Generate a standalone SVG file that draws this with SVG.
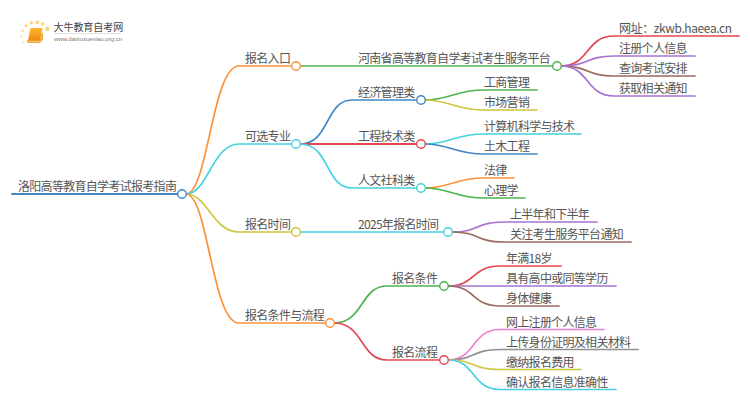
<svg xmlns="http://www.w3.org/2000/svg" width="750" height="410" viewBox="0 0 750 410">
<style>
text{font-family:"Noto Sans CJK SC","Liberation Sans",sans-serif;font-size:12px;letter-spacing:-0.7px;fill:#555}
.c{fill:none;stroke-width:1.7;stroke-linecap:round}
.n{fill:#fff;stroke-width:1.4}
.o{stroke:#fd9138}.g{stroke:#4db34d}.b{stroke:#3f88c5}.r{stroke:#e2474f}.t{stroke:#45d1e0}.y{stroke:#cfc63f}.p{stroke:#a673cf}.m{stroke:#9a6a60}.k{stroke:#ea82d3}.h{stroke:#8f8f8f}
</style>
<defs><linearGradient id="bk" x1="0" y1="0" x2="0" y2="1"><stop offset="0" stop-color="#fbb82e"/><stop offset="1" stop-color="#ef8a10"/></linearGradient></defs>
<rect width="750" height="410" fill="#fff"/>
<g id="logo">
<g fill="#fbd47a"><circle cx="47.300" cy="28.700" r="2.300"/><circle cx="42.700" cy="24" r="1.800"/><circle cx="37.300" cy="22.300" r="1.900"/><circle cx="31.300" cy="22.700" r="1.700"/><circle cx="26" cy="25.700" r="1.400"/><circle cx="22.700" cy="30.700" r="1.100"/><circle cx="21.300" cy="36.700" r="0.900"/><circle cx="23.300" cy="42.300" r="0.800"/></g>
<path d="M30.500 28H42.500L40 40.500H28z" fill="url(#bk)"/><path d="M28 40.500C27 41 27 42.300 28 42.500H39.500L42.500 40V33L40 40.500z" fill="#f9c469" stroke="#e88b10" stroke-width="0.700"/>
<text x="53.500" y="31" style="font-size:10px;letter-spacing:-0.05px;fill:#444">大牛教育自考网</text>
<rect x="54" y="33" width="67" height="0.600" fill="#ccc"/>
<text x="54" y="41" style="font-size:6px;letter-spacing:0;font-family:'Liberation Sans',sans-serif;fill:#777">www.daniuxuexiao.org.cn</text>
</g>
<g id="connectors">
<path class="c b" d="M12 194H178" style="stroke-width:2"/>
<path class="c o" d="M186 194C208 194 212 66 239 66H292"/>
<path class="c t" d="M186 194C208 194 212 144 239 144H292"/>
<path class="c y" d="M186 194C208 194 212 232 239 232H292"/>
<path class="c o" d="M186 194C208 194 212 323 239 323H326"/>
<path class="c g" d="M300 66H553"/>
<path class="c b" d="M300 144C330 144 325 100 352 100H417"/>
<path class="c r" d="M300 144H417" style="stroke-width:2"/>
<path class="c t" d="M300 144C330 144 325 188 352 188H417"/>
<path class="c t" d="M300 232H444"/>
<path class="c g" d="M334 323C364 323 360 286 387 286H440"/>
<path class="c r" d="M334 323C364 323 360 360 387 360H440"/>
<path class="c g" d="M425 100C450 100 455 90 484 90H537"/>
<path class="c y" d="M425 100C450 100 455 110 484 110H537"/>
<path class="c t" d="M425 144C450 144 455 134 484 134H581"/>
<path class="c b" d="M425 144C450 144 455 154 484 154H537"/>
<path class="c o" d="M425 188C450 188 455 178 484 178H514"/>
<path class="c g" d="M425 188C450 188 455 198 484 198H525"/>
<path class="c r" d="M561 66C590 66 585 36 614 36H739"/>
<path class="c p" d="M561 66C590 66 585 56 614 56H695"/>
<path class="c m" d="M561 66C590 66 585 76 614 76H695"/>
<path class="c p" d="M561 66C590 66 585 96 614 96H695"/>
<path class="c p" d="M452 232C480 232 475 222 504 222H597"/>
<path class="c m" d="M452 232C480 232 475 242 504 242H631"/>
<path class="c r" d="M448 286C476 286 471 266 500 266H561"/>
<path class="c p" d="M448 286H616"/>
<path class="c m" d="M448 286C476 286 471 306 500 306H559"/>
<path class="c k" d="M448 360C476 360 471 329.500 500 329.500H604"/>
<path class="c h" d="M448 360C476 360 471 349.500 500 349.500H638"/>
<path class="c y" d="M448 360C476 360 471 369.500 500 369.500H581"/>
<path class="c t" d="M448 360C476 360 471 389.500 500 389.500H616"/>
</g>
<g id="root"><text x="18" y="190.500">洛阳高等教育自学考试报考指南</text><circle class="n b" cx="182" cy="194" r="4.300"/></g>
<g id="n1"><text x="245" y="62.500">报名入口</text><circle class="n o" cx="296" cy="66" r="4.300"/></g>
<g id="n2"><text x="245" y="140.500">可选专业</text><circle class="n t" cx="296" cy="144" r="4.300"/></g>
<g id="n3"><text x="245" y="228.500">报名时间</text><circle class="n y" cx="296" cy="232" r="4.300"/></g>
<g id="n4"><text x="245" y="319.500">报名条件与流程</text><circle class="n o" cx="330" cy="323" r="4.300"/></g>
<g id="n11"><text x="358" y="62.500">河南省高等教育自学考试考生服务平台</text><circle class="n g" cx="557" cy="66" r="4.300"/></g>
<g id="n21"><text x="358" y="96.500">经济管理类</text><circle class="n b" cx="421" cy="100" r="4.300"/></g>
<g id="n22"><text x="358" y="140.500">工程技术类</text><circle class="n r" cx="421" cy="144" r="4.300"/></g>
<g id="n23"><text x="358" y="184.500">人文社科类</text><circle class="n t" cx="421" cy="188" r="4.300"/></g>
<g id="n31"><text x="358" y="228.500">2025年报名时间</text><circle class="n t" cx="448" cy="232" r="4.300"/></g>
<g id="n41"><text x="392" y="282.500">报名条件</text><circle class="n g" cx="444" cy="286" r="4.300"/></g>
<g id="n42"><text x="392" y="356.500">报名流程</text><circle class="n r" cx="444" cy="360" r="4.300"/></g>
<g id="l1"><text x="619" y="33" style="letter-spacing:-0.4px">网址：zkwb.haeea.cn</text></g>
<g id="l2"><text x="619" y="52.500">注册个人信息</text></g>
<g id="l3"><text x="619" y="72.500">查询考试安排</text></g>
<g id="l4"><text x="619" y="92.500">获取相关通知</text></g>
<g id="l5"><text x="484" y="86.500">工商管理</text></g>
<g id="l6"><text x="484" y="106.500">市场营销</text></g>
<g id="l7"><text x="484" y="130.500">计算机科学与技术</text></g>
<g id="l8"><text x="484" y="150.500">土木工程</text></g>
<g id="l9"><text x="484" y="174.500">法律</text></g>
<g id="l10"><text x="484" y="194.500">心理学</text></g>
<g id="l11"><text x="510" y="218.500">上半年和下半年</text></g>
<g id="l12"><text x="510" y="238.500">关注考生服务平台通知</text></g>
<g id="l13"><text x="506" y="262.500">年满18岁</text></g>
<g id="l14"><text x="506" y="282.500">具有高中或同等学历</text></g>
<g id="l15"><text x="506" y="302.500">身体健康</text></g>
<g id="l16"><text x="506" y="326.500">网上注册个人信息</text></g>
<g id="l17"><text x="506" y="346.500">上传身份证明及相关材料</text></g>
<g id="l18"><text x="506" y="366.500">缴纳报名费用</text></g>
<g id="l19"><text x="506" y="386.500">确认报名信息准确性</text></g>
</svg>
